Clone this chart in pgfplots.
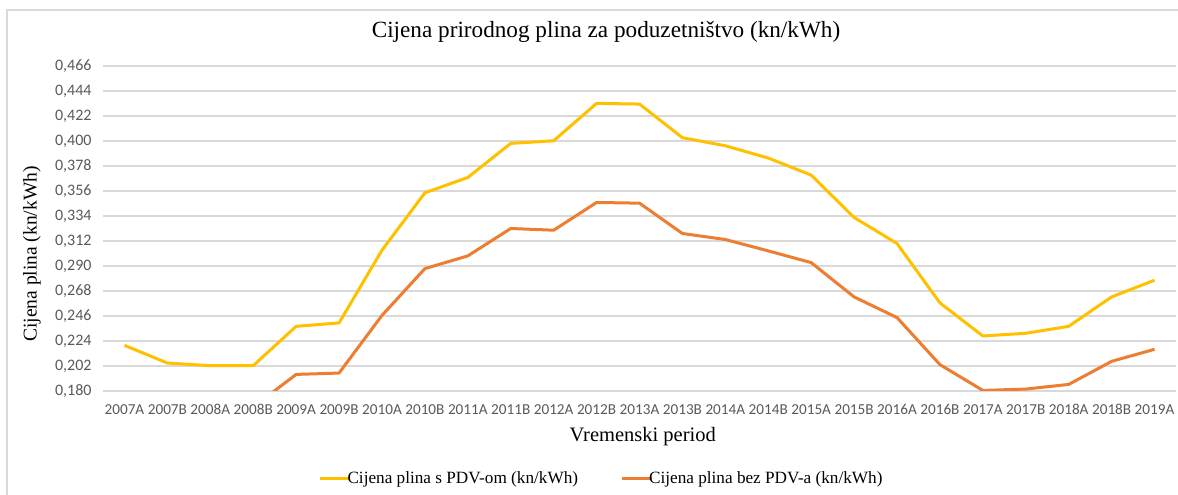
\documentclass[border=0pt]{standalone}
\usepackage{pgfplots}
\pgfplotsset{compat=1.18}
\usepackage{pgfplotstable}
\usepackage{fontspec}
\setmainfont{Liberation Serif}
\newfontfamily\tickfont{Carlito}
\definecolor{cyellow}{HTML}{FFC000}
\definecolor{corange}{HTML}{ED7D31}
\definecolor{cgrid}{HTML}{D9D9D9}
\definecolor{ctick}{HTML}{595959}
\pgfplotstableread{
idx yel ora
0 0.2202 0.1780
1 0.2046 0.1677
2 0.2023 0.1658
3 0.2023 0.1658
4 0.2369 0.1946
5 0.2399 0.1958
6 0.3039 0.2465
7 0.3544 0.2877
8 0.3679 0.2989
9 0.3979 0.3230
10 0.4002 0.3215
11 0.4331 0.3459
12 0.4325 0.3453
13 0.4029 0.3186
14 0.3958 0.3133
15 0.3850 0.3033
16 0.3700 0.2930
17 0.3327 0.2628
18 0.3098 0.2446
19 0.2575 0.2032
20 0.2284 0.1805
21 0.2308 0.1817
22 0.2369 0.1858
23 0.2628 0.2061
24 0.2775 0.2167
}\datatable
\begin{document}
\begin{tikzpicture}[x=1pt,y=1pt]
\useasboundingbox (0,0) rectangle (1178,495);
\draw[color=cgrid, line width=1.2pt] (7,-20) -- (7,485) -- (1200,485);
\begin{axis}[
  at={(103pt,104pt)}, anchor=south west,
  scale only axis, width=1073pt, height=325pt,
  xmin=-0.5, xmax=24.5, ymin=0.180, ymax=0.466,
  xtick={0,...,24},
  xticklabels={2007A,2007B,2008A,2008B,2009A,2009B,2010A,2010B,2011A,2011B,2012A,2012B,2013A,2013B,2014A,2014B,2015A,2015B,2016A,2016B,2017A,2017B,2018A,2018B,2019A},
  ytick={0.180,0.202,0.224,0.246,0.268,0.290,0.312,0.334,0.356,0.378,0.400,0.422,0.444,0.466},
  /pgf/number format/fixed, /pgf/number format/fixed zerofill,
  /pgf/number format/precision=3, /pgf/number format/use comma,
  /pgf/number format/assume math mode=true,
  ticklabel style={text=ctick},
  xticklabel style={yshift=-10pt, font=\tickfont\fontsize{15.2}{17}\selectfont},
  yticklabel style={xshift=-8pt, font=\tickfont\fontsize{16}{18}\selectfont},
  major tick length=0pt,
  axis line style={draw=none},
  ymajorgrids, grid style={color=cgrid, line width=1.3pt},
  title={Cijena prirodnog plina za poduzetništvo (kn/kWh)},
  title style={font=\fontsize{23.2}{26}\selectfont, at={(axis description cs:0.4688,1.086)}, anchor=center},
  xlabel={Vremenski period},
  xlabel style={font=\fontsize{20.5}{24}\selectfont, at={(axis description cs:0.503,-0.1415)}, anchor=center},
  ylabel={Cijena plina (kn/kWh)},
  ylabel style={font=\fontsize{19.5}{22}\selectfont, at={(axis description cs:-0.0662,0.4215)}, anchor=center, rotate=0},
  legend columns=2,
  legend style={draw=none, fill=none, at={(axis description cs:0.4646,-0.27)}, anchor=center,
    font=\fontsize{17.2}{19}\selectfont, column sep=0pt,
    /tikz/every even column/.append style={column sep=40pt}},
  legend cell align=left,
  legend image code/.code={\draw[#1, line width=3pt] (0pt,0pt) -- (30pt,0pt);},
  every axis plot/.append style={line width=3pt, line join=round},
]
\addplot[color=cyellow, mark=none] table[x=idx, y=yel] {\datatable};
\addlegendentry{\hspace{-6pt}Cijena plina s PDV-om (kn/kWh)}
\addplot[color=corange, mark=none] table[x=idx, y=ora] {\datatable};
\addlegendentry{\hspace{-6pt}Cijena plina bez PDV-a (kn/kWh)}
\end{axis}
\end{tikzpicture}
\end{document}
